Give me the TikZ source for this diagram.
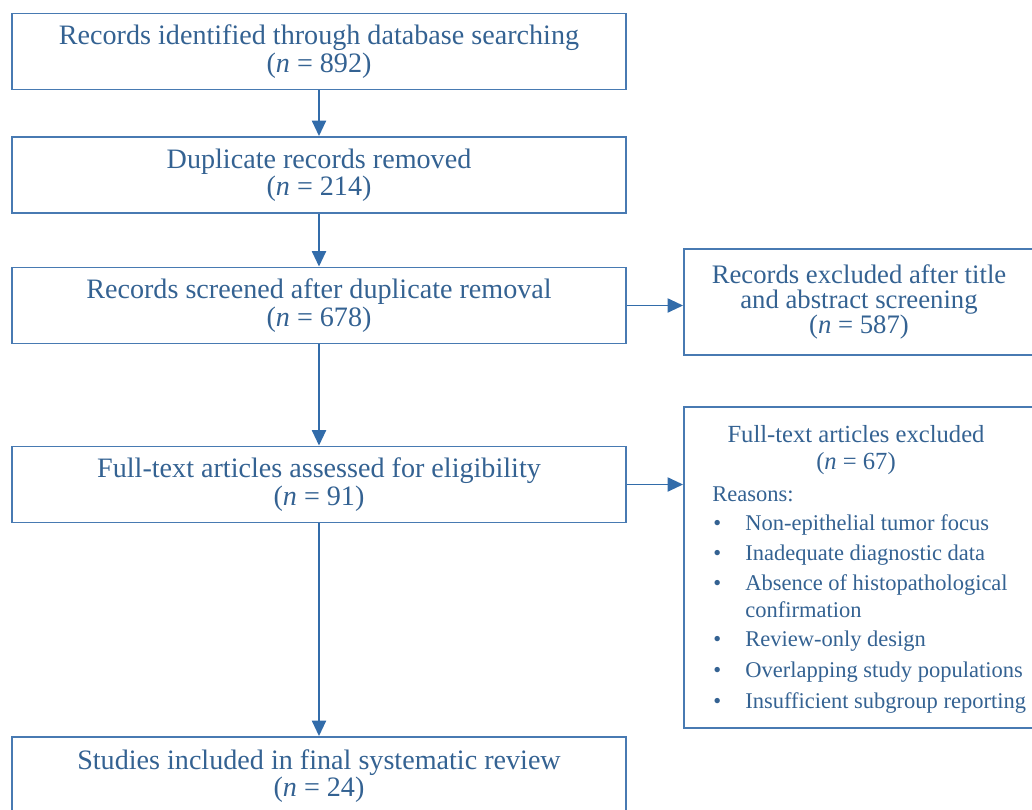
\documentclass[tikz,border=0pt]{standalone}
\usepackage{fontspec}
\setmainfont{Liberation Serif}
\usetikzlibrary{arrows.meta}

\definecolor{boxblue}{RGB}{72,122,178}
\definecolor{txtblue}{RGB}{52,98,146}
\definecolor{arrowblue}{RGB}{50,108,170}

\begin{document}
\begin{tikzpicture}[x=0.025cm,y=-0.025cm,
    stage/.style={draw=boxblue,line width=1.3pt,minimum width=15.35cm,minimum height=1.9cm,
      align=center,text=txtblue,font=\fontsize{20}{19.5}\selectfont},
    side/.style={draw=boxblue,line width=1.3pt,minimum width=8.75cm,text=txtblue},
    flow/.style={draw=arrowblue,line width=1.4pt,-{Triangle[length=11pt,width=10pt]}},
    reason/.style={anchor=west,text=txtblue,font=\fontsize{16}{18}\selectfont,inner sep=0pt}]
                \useasboundingbox (0,0) rectangle (1032,809);

                % main column
                \node[stage] (ident) at (319,51.5) {Records identified through database searching\\(\textit{n} = 892)};
                \node[stage] (dup) at (319,175) {Duplicate records removed\\(\textit{n} = 214)};
                \node[stage] (screen) at (319,305.5) {Records screened after duplicate removal\\(\textit{n} = 678)};
                \node[stage] (full) at (319,484.5) {Full-text articles assessed for eligibility\\(\textit{n} = 91)};
                \node[stage,minimum height=1.95cm] (incl) at (319,776) {Studies included in final systematic review\\(\textit{n} = 24)};

                % exclusions
                \node[side,minimum height=2.65cm,align=center,font=\fontsize{19}{17.5}\selectfont] (excl) at (859,302)
                    {Records excluded after title\\and abstract screening\\(\textit{n} = 587)};
                \node[side,minimum height=8.025cm] (fullx) at (859,567.5) {};
                \node[text=txtblue,align=center,font=\fontsize{17.5}{19.2}\selectfont] (fxhead) at (856,450)
                    {Full-text articles excluded\\(\textit{n} = 67)};
                \node[reason] (why) at (712,494) {Reasons:};

                \node[reason] (b1) at (713,525) {\textbullet};
                \node[reason] (r1) at (745,525) {Non-epithelial tumor focus};
                \node[reason] (b2) at (713,555) {\textbullet};
                \node[reason] (r2) at (745,555) {Inadequate diagnostic data};
                \node[reason] (b3) at (713,585) {\textbullet};
                \node[reason] (r3) at (745,585) {Absence of histopathological};
                \node[reason] (r3b) at (745,610) {confirmation};
                \node[reason] (b4) at (713,641) {\textbullet};
                \node[reason] (r4) at (745,641) {Review-only design};
                \node[reason] (b5) at (713,672) {\textbullet};
                \node[reason] (r5) at (745,672) {Overlapping study populations};
                \node[reason] (b6) at (713,703) {\textbullet};
                \node[reason] (r6) at (745,703) {Insufficient subgroup reporting};

                % arrows
                \draw[flow] (ident) -- (dup);
                \draw[flow] (dup) -- (screen);
                \draw[flow] (screen) -- (full);
                \draw[flow] (full) -- (incl);
                \draw[flow] (screen.east) -- (screen.east -| excl.west);
                \draw[flow] (full.east) -- (full.east -| fullx.west);
            \end{tikzpicture}
\end{document}
